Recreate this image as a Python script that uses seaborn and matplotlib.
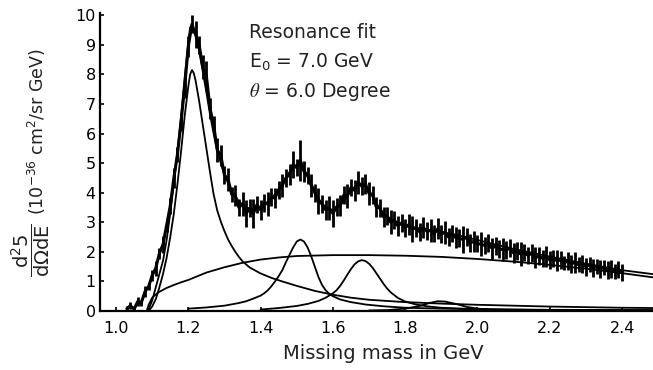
import numpy as np
import matplotlib
matplotlib.use("Agg")
import matplotlib.pyplot as plt
import seaborn as sns

# ---------------- data ----------------
bin_start, bin_stop, bin_step = 1.03, 2.40, 0.01
mass = np.round(np.arange(bin_start, bin_stop + bin_step / 2, bin_step), 2)

counts = [
    0.08, 0.18, 0.06, 0.32, 0.28, 0.65, 0.82,
    1.2, 1.45, 1.95, 2.25, 2.9, 3.55, 4.5, 5.3, 6.4, 7.6,
    8.95, 9.7, 9.35, 9.0, 8.25, 7.95, 6.85, 6.3, 5.45, 5.25,
    4.6, 4.45, 3.95, 3.9, 3.5, 3.62, 3.3, 3.48, 3.3, 3.6,
    3.42, 3.65, 3.62, 3.85, 3.82, 4.1, 4.25, 4.5, 4.62, 4.95,
    4.85, 5.1, 4.72, 4.58, 4.25, 4.0, 3.72, 3.62, 3.42, 3.48,
    3.3, 3.52, 3.58, 3.92, 3.9, 4.18, 4.08, 4.35, 4.22, 4.3,
    3.98, 3.92, 3.52, 3.48, 3.18, 3.22, 3.0, 3.08, 2.88, 2.98,
    2.82, 2.92, 2.78, 2.8, 2.68, 2.82, 2.7, 2.72, 2.62, 2.78,
    2.6, 2.66, 2.5, 2.62, 2.48, 2.46, 2.42, 2.5, 2.3, 2.36,
    2.28, 2.26, 2.22, 2.3, 2.12, 2.2, 2.1, 2.08, 2.06, 2.14,
    1.96, 2.04, 1.92, 1.98, 1.88, 1.96, 1.8, 1.86, 1.78, 1.84,
    1.72, 1.78, 1.7, 1.72, 1.62, 1.7, 1.6, 1.64, 1.56, 1.6,
    1.5, 1.56, 1.46, 1.5, 1.42, 1.48, 1.38, 1.42, 1.34, 1.4, 1.3,
]
errors = [
    0.1, 0.12, 0.08, 0.15, 0.1, 0.18, 0.12,
    0.2, 0.25, 0.18, 0.3, 0.22, 0.28, 0.35, 0.25, 0.3, 0.4,
    0.35, 0.3, 0.45, 0.3, 0.4, 0.5, 0.35, 0.3, 0.4, 0.35,
    0.3, 0.4, 0.25, 0.35, 0.3, 0.4, 0.45, 0.3, 0.5, 0.3,
    0.35, 0.3, 0.4, 0.3, 0.35, 0.3, 0.4, 0.3, 0.35, 0.45,
    0.3, 0.7, 0.35, 0.3, 0.4, 0.3, 0.45, 0.3, 0.35, 0.4,
    0.45, 0.3, 0.35, 0.3, 0.4, 0.3, 0.35, 0.4, 0.3, 0.35,
    0.4, 0.3, 0.35, 0.3, 0.35, 0.3, 0.4, 0.3, 0.35, 0.3,
    0.3, 0.35, 0.45, 0.3, 0.3, 0.35, 0.3, 0.4, 0.3, 0.35,
    0.3, 0.4, 0.3, 0.3, 0.35, 0.3, 0.45, 0.3, 0.3, 0.35,
    0.3, 0.4, 0.3, 0.3, 0.35, 0.3, 0.3, 0.4, 0.3, 0.3,
    0.35, 0.3, 0.4, 0.3, 0.3, 0.3, 0.35, 0.3, 0.3, 0.35,
    0.3, 0.3, 0.35, 0.3, 0.25, 0.3, 0.3, 0.35, 0.25, 0.3,
    0.3, 0.25, 0.3, 0.25, 0.3, 0.25, 0.3, 0.3, 0.25, 0.3, 0.3,
]

total_x = [1.09, 1.10, 1.11, 1.12, 1.13, 1.14, 1.15, 1.16, 1.17, 1.18, 1.19, 1.20, 1.205,
           1.21, 1.22, 1.23, 1.24, 1.25, 1.26, 1.27, 1.28, 1.29, 1.30, 1.32, 1.34, 1.36,
           1.38, 1.40, 1.42, 1.44, 1.46, 1.48, 1.50, 1.51, 1.52, 1.54, 1.56, 1.58, 1.60,
           1.62, 1.64, 1.66, 1.68, 1.70, 1.72, 1.74, 1.76, 1.80, 1.85, 1.90, 1.95, 2.0,
           2.1, 2.2, 2.3, 2.4, 2.49]
total_y = [0.05, 0.35, 0.8, 1.25, 1.7, 2.4, 3.3, 4.3, 5.4, 6.6, 7.9, 9.1, 9.6,
           9.65, 9.35, 8.8, 8.1, 7.4, 6.65, 6.0, 5.4, 5.0, 4.6, 4.05, 3.7, 3.5,
           3.45, 3.5, 3.7, 3.95, 4.3, 4.7, 4.95, 4.95, 4.8, 4.3, 3.8, 3.5, 3.4,
           3.55, 3.9, 4.2, 4.3, 4.1, 3.65, 3.3, 3.1, 2.88, 2.78, 2.68, 2.55, 2.4,
           2.1, 1.84, 1.6, 1.38, 1.24]

delta_x = [1.09, 1.10, 1.11, 1.12, 1.13, 1.14, 1.15, 1.16, 1.17, 1.18, 1.19, 1.20, 1.205,
           1.21, 1.215, 1.22, 1.23, 1.24, 1.25, 1.26, 1.27, 1.28, 1.29, 1.30, 1.31, 1.32,
           1.33, 1.34, 1.35, 1.37, 1.40, 1.43, 1.46, 1.50, 1.55, 1.60, 1.65, 1.70, 1.80,
           1.90, 2.0, 2.1, 2.2, 2.3, 2.4, 2.49]
delta_y = [0.0, 0.15, 0.4, 0.8, 1.25, 1.8, 2.5, 3.3, 4.3, 5.4, 6.6, 7.6, 8.0,
           8.15, 8.05, 7.8, 7.1, 6.3, 5.5, 4.7, 3.95, 3.4, 3.02, 2.7, 2.42, 2.2,
           2.0, 1.83, 1.68, 1.47, 1.27, 1.12, 1.0, 0.85, 0.68, 0.55, 0.45, 0.38, 0.3,
           0.25, 0.21, 0.18, 0.15, 0.13, 0.11, 0.1]

bg_x = [1.085, 1.09, 1.10, 1.11, 1.12, 1.14, 1.16, 1.18, 1.20, 1.25, 1.30, 1.35, 1.40,
        1.45, 1.50, 1.60, 1.70, 1.80, 1.90, 2.0, 2.1, 2.2, 2.3, 2.4, 2.49]
bg_y = [0.0, 0.2, 0.45, 0.56, 0.65, 0.78, 0.88, 0.97, 1.05, 1.3, 1.48, 1.63, 1.74,
        1.81, 1.86, 1.89, 1.89, 1.87, 1.83, 1.76, 1.67, 1.56, 1.43, 1.28, 1.13]

n1520_x = [1.20, 1.25, 1.30, 1.34, 1.36, 1.38, 1.40, 1.41, 1.42, 1.43, 1.44, 1.45, 1.46,
           1.47, 1.48, 1.49, 1.50, 1.51, 1.52, 1.53, 1.54, 1.55, 1.56, 1.57, 1.58, 1.59,
           1.60, 1.62, 1.65, 1.69, 1.74, 1.80, 1.90, 2.0, 2.2, 2.49]
n1520_y = [0.08, 0.12, 0.18, 0.27, 0.33, 0.42, 0.52, 0.6, 0.7, 0.84, 1.0, 1.18, 1.38,
           1.65, 1.9, 2.15, 2.35, 2.42, 2.35, 2.15, 1.85, 1.5, 1.15, 0.88, 0.7, 0.58,
           0.5, 0.39, 0.3, 0.22, 0.16, 0.11, 0.08, 0.06, 0.04, 0.03]

n1680_x = [1.40, 1.45, 1.50, 1.53, 1.56, 1.58, 1.60, 1.61, 1.62, 1.63, 1.64, 1.65, 1.66,
           1.67, 1.68, 1.69, 1.70, 1.71, 1.72, 1.73, 1.74, 1.75, 1.76, 1.78, 1.80, 1.83,
           1.86, 1.90, 2.0, 2.2, 2.49]
n1680_y = [0.05, 0.1, 0.17, 0.24, 0.34, 0.45, 0.6, 0.7, 0.85, 1.03, 1.23, 1.42, 1.58,
           1.68, 1.72, 1.69, 1.6, 1.46, 1.28, 1.1, 0.92, 0.76, 0.63, 0.44, 0.32, 0.22,
           0.16, 0.11, 0.06, 0.03, 0.02]

n1900_x = [1.70, 1.75, 1.80, 1.84, 1.87, 1.89, 1.91, 1.94, 1.97, 2.0, 2.05, 2.2, 2.49]
n1900_y = [0.02, 0.03, 0.08, 0.17, 0.28, 0.33, 0.32, 0.24, 0.14, 0.08, 0.04, 0.02, 0.01]

x_ticks = [1.0, 1.2, 1.4, 1.6, 1.8, 2.0, 2.2, 2.4]
y_ticks = list(range(0, 11))

# ---------------- figure ----------------
sns.set_style("ticks")
plt.rcParams["font.family"] = ["DejaVu Sans"]

fig = plt.figure(figsize=(6.53, 3.70), dpi=100)
ax = fig.add_axes([100 / 653, 59 / 370, 553 / 653, 298 / 370])

ink = "black"
for cx, cy in [(bg_x, bg_y), (delta_x, delta_y), (n1520_x, n1520_y),
               (n1680_x, n1680_y), (n1900_x, n1900_y), (total_x, total_y)]:
    sns.lineplot(x=cx, y=cy, ax=ax, color=ink, lw=1.3, sort=False, estimator=None)

counts_a = np.array(counts)
errors_a = np.array(errors)
sns.lineplot(x=mass, y=counts_a, ax=ax, color=ink, lw=2.2, sort=False, estimator=None)
ax.vlines(mass, counts_a - errors_a, counts_a + errors_a, color=ink, lw=2.0)

ax.set_xlim(0.9557, 2.4855)
ax.set_ylim(0, 10.08)
ax.set_xticks(x_ticks)
ax.set_xticklabels([f"{t:.1f}" for t in x_ticks])
ax.set_yticks(y_ticks)
ax.set_yticklabels([str(t) for t in y_ticks])
ax.tick_params(axis="both", direction="in", length=3, width=1.2, colors=ink,
               labelsize=11.5)
ax.tick_params(axis="x", pad=7)
ax.tick_params(axis="y", pad=3)
for s in ["top", "right"]:
    ax.spines[s].set_visible(False)
for s in ["left", "bottom"]:
    ax.spines[s].set_linewidth(1.6)
    ax.spines[s].set_color(ink)

ax.set_xlabel("Missing mass in GeV", fontsize=14, color="#222222")
ax.xaxis.set_label_coords(0.513, -0.11)

# y label: fraction + units
fig.text(31 / 653, 1 - 250 / 370,
         r"$\dfrac{\mathrm{d}^2 5}{\mathrm{d}\Omega \mathrm{d}\mathrm{E}}$",
         rotation=90, ha="center", va="center", fontsize=14,
         math_fontfamily="dejavusans", color="#222222")
fig.text(37 / 653, 1 - 132 / 370, r"(10$^{-36}$ cm$^2$/sr GeV)",
         rotation=90, ha="center", va="center", fontsize=12.5, color="#222222")

# annotation
fig.text(249 / 653, 1 - 38 / 370, "Resonance fit", fontsize=13.5,
         ha="left", va="baseline", color="#222222")
fig.text(249 / 653, 1 - 68 / 370, r"E$_0$ = 7.0 GeV", fontsize=13.5,
         ha="left", va="baseline", color="#222222")
fig.text(249 / 653, 1 - 97 / 370, r"$\theta$ = 6.0 Degree", fontsize=13.5,
         ha="left", va="baseline", color="#222222", math_fontfamily="stix")

fig.savefig("out.png", dpi=100)
